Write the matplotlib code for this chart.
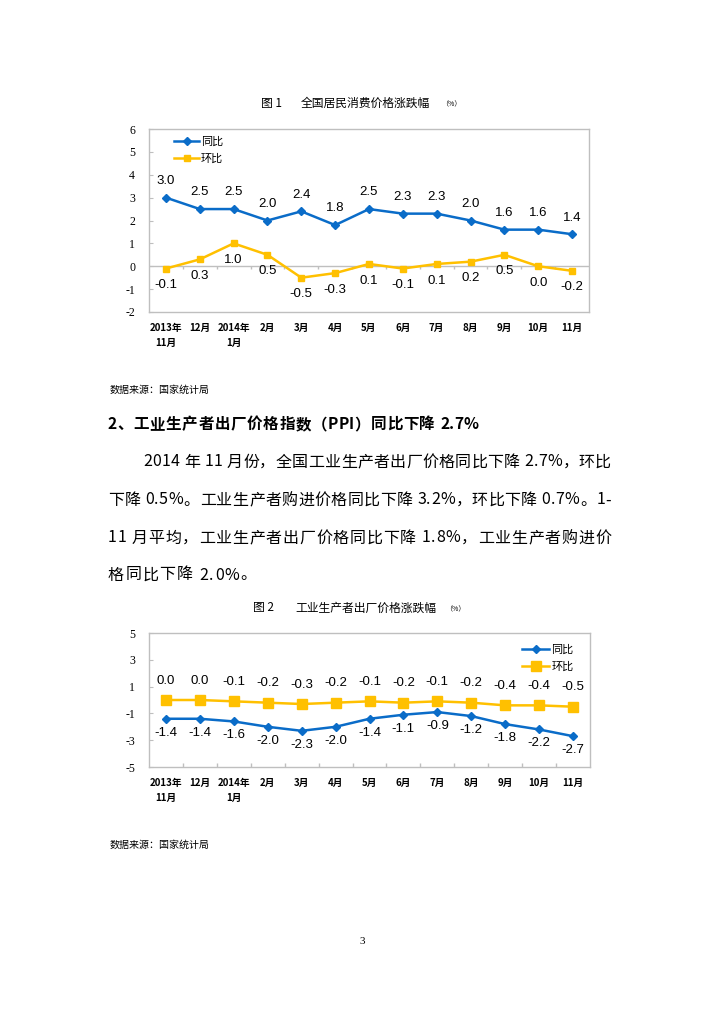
import matplotlib
matplotlib.use("Agg")
import matplotlib.pyplot as plt
import numpy as np

plt.rcParams['font.family'] = ['Noto Sans CJK SC', 'DejaVu Sans']

months = ["2013年\n11月", "12月", "2014年\n1月", "2月", "3月", "4月", "5月",
          "6月", "7月", "8月", "9月", "10月", "11月"]

cpi_yoy = [3.0, 2.5, 2.5, 2.0, 2.4, 1.8, 2.5, 2.3, 2.3, 2.0, 1.6, 1.6, 1.4]
cpi_mom = [-0.1, 0.3, 1.0, 0.5, -0.5, -0.3, 0.1, -0.1, 0.1, 0.2, 0.5, 0.0, -0.2]

ppi_yoy = [-1.4, -1.4, -1.6, -2.0, -2.3, -2.0, -1.4, -1.1, -0.9, -1.2, -1.8, -2.2, -2.7]
ppi_mom = [0.0, 0.0, -0.1, -0.2, -0.3, -0.2, -0.1, -0.2, -0.1, -0.2, -0.4, -0.4, -0.5]

BLUE = "#0A6CC8"
YELLOW = "#FFC000"
BOX = "#BFBFBF"

W, H = 724, 1024
fig = plt.figure(figsize=(W / 100, H / 100), dpi=100)


def px(x, y):
    return x / W, 1 - y / H


def ftext(x, y, s, **kw):
    kw.setdefault("va", "center")
    return fig.text(*px(x, y), s, **kw)


def make_axes(left, top, right, bottom):
    l, t = px(left, top)
    r, b = px(right, bottom)
    return fig.add_axes([l, b, r - l, t - b])


def style_axes(ax, ylim, yticks):
    x = np.arange(len(months))
    ax.set_xlim(-0.5, len(months) - 0.5)
    ax.set_ylim(*ylim)
    ax.set_yticks(yticks)
    ax.set_yticklabels([str(v) for v in yticks], family="Liberation Serif",
                       fontsize=8.5)
    ax.set_xticks(x)
    ax.set_xticklabels(months, fontsize=7, fontweight="bold", linespacing=1.6)
    ax.tick_params(axis="x", length=0, pad=8)
    ax.tick_params(axis="y", length=3, direction="in", color=BOX, pad=10)
    for s in ax.spines.values():
        s.set_color(BOX)
        s.set_linewidth(1.0)
    return x


def labels(ax, x, vals, dy):
    for xi, v in zip(x, vals):
        ax.annotate(f"{v:.1f}", (xi, v), xytext=(0, dy), textcoords="offset points",
                    ha="center", va="center", fontsize=9.5,
                    family="Liberation Sans", color="black")


def spaced_line(x0, y, s, size, right=None, gap=1.5):
    # place characters one by one; stretch to the right margin if given
    r = fig.canvas.get_renderer()
    widths = []
    for c in s:
        t = fig.text(0, 0, c, fontsize=size)
        widths.append(t.get_window_extent(r).width if c != " " else size * 0.35)
        t.remove()
    if right is not None:
        gap = (right - x0 - sum(widths)) / (len(s) - 1)
    cx = x0
    for c, w in zip(s, widths):
        ftext(cx, y, c, fontsize=size)
        cx += w + gap


# ---------- figure 1 ----------
ftext(261, 103, "图 1", fontsize=8.5)
ftext(301, 103, "全国居民消费价格涨跌幅", fontsize=8.5)
ftext(441, 104, "（%）", fontsize=5)

ax1 = make_axes(149, 129, 589, 312)
x = style_axes(ax1, (-2, 6), [-2, -1, 0, 1, 2, 3, 4, 5, 6])
ax1.axhline(0, color=BOX, lw=1.0, zorder=1)
ax1.vlines(np.arange(0.5, len(months) - 1, 1), 0, -0.12, color=BOX, lw=1.0)
ax1.plot(x, cpi_yoy, color=BLUE, lw=1.8, marker="D", ms=4, label="同比", zorder=3)
ax1.plot(x, cpi_mom, color=YELLOW, lw=1.8, marker="s", ms=4.5, label="环比", zorder=3)
labels(ax1, x, cpi_yoy, 12)
labels(ax1, x, cpi_mom, -12)
ax1.legend(loc="upper left", bbox_to_anchor=(0.04, 1.0), frameon=False,
           fontsize=8, handlelength=2.2, handletextpad=0.2, labelspacing=0.55,
           borderaxespad=0.3)

ftext(110, 390, "数据来源：国家统计局", fontsize=7.2)

# ---------- text ----------
fig.canvas.draw()
spaced_line(108, 424, "2、工业生产者出厂价格指数（PPI）同比下降 2.7%", 11.2,
            right=478)
for t in fig.texts[-len("2、工业生产者出厂价格指数（PPI）同比下降 2.7%"):]:
    t.set_fontweight("bold")

spaced_line(143, 462, "2014 年 11 月份，全国工业生产者出厂价格同比下降 2.7%，环比", 11.5, right=611)
spaced_line(108, 500, "下降 0.5%。工业生产者购进价格同比下降 3.2%，环比下降 0.7%。1-", 11.5, right=611)
spaced_line(108, 538, "11 月平均，工业生产者出厂价格同比下降 1.8%，工业生产者购进价", 11.5, right=611)
spaced_line(108, 575, "格同比下降 2.0%。", 11.5, gap=1.2)

# ---------- figure 2 ----------
ftext(253, 608, "图 2", fontsize=8.5)
ftext(295, 608, "工业生产者出厂价格涨跌幅", fontsize=8.5)
ftext(445, 609, "（%）", fontsize=5)

ax2 = make_axes(149, 633, 590, 767)
x = style_axes(ax2, (-5, 5), [-5, -3, -1, 1, 3, 5])
ax2.vlines(np.arange(0.5, len(months) - 1, 1), -5, -4.7, color=BOX, lw=1.0)
ax2.plot(x, ppi_yoy, color=BLUE, lw=1.8, marker="D", ms=4, label="同比", zorder=3)
ax2.plot(x, ppi_mom, color=YELLOW, lw=1.8, marker="s", ms=6.5, label="环比", zorder=3)
labels(ax2, x, ppi_mom, 14)
labels(ax2, x, ppi_yoy, -10)
ax2.legend(loc="upper right", bbox_to_anchor=(0.98, 0.97), frameon=False,
           fontsize=8, handlelength=2.4, handletextpad=0.2, labelspacing=0.6,
           borderaxespad=0.3)

ftext(110, 845, "数据来源：国家统计局", fontsize=7.2)

ftext(362, 942, "3", fontsize=8, family="Liberation Serif", ha="center")

fig.savefig("out.png", dpi=100)
